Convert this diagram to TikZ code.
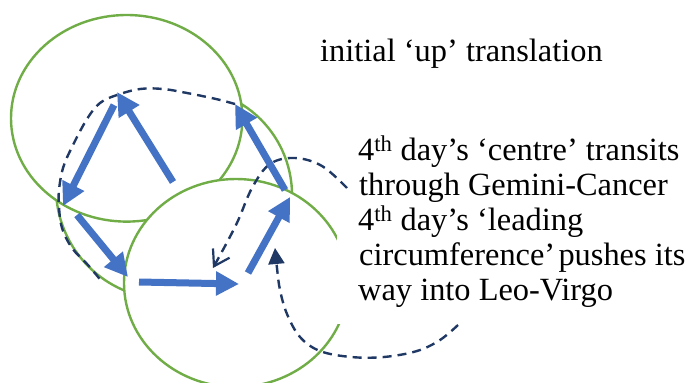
\documentclass[tikz,border=0pt]{standalone}
\usepackage{fontspec}
\setmainfont{Liberation Serif}
\usetikzlibrary{arrows.meta}
\definecolor{cgreen}{HTML}{70AD47}
\definecolor{cblue}{HTML}{4472C4}
\definecolor{cnavy}{HTML}{1F3864}
\begin{document}
\begin{tikzpicture}[x=1pt,y=-1pt,
  circ/.style={draw=cgreen,line width=2.4pt},
  bluearrow/.style={draw=cblue,line width=7pt,-{Triangle[length=23pt,width=23pt,fill=cblue]}},
  dashline/.style={draw=cnavy,line width=2.4pt,dash pattern=on 9pt off 6pt},
  lbl/.style={anchor=base west,inner sep=0pt,font=\fontsize{32.4}{35}\selectfont}]
\useasboundingbox (0,0) rectangle (689,383);
\clip (0,0) rectangle (689,383);
% circles (back ones first, then the white-filled front ones)
\draw[circ] (185,195) ++(-70:107) arc[start angle=-70,end angle=10,radius=107];
\draw[circ] (167,188) ++(100:111) arc[start angle=100,end angle=185,radius=111];
\draw[circ,fill=white] (126.7,118.3) ellipse [x radius=115.7,y radius=103.3];
\draw[circ,fill=white] (236,283) ellipse [x radius=112,y radius=104];
% white text box covering part of the front circle
\fill[white] (337,192) rectangle (689,324);
% arrow end points
\coordinate (p1s) at (173,182); \coordinate (p1e) at (117,92);
\coordinate (p2s) at (114,105); \coordinate (p2e) at (63,206);
\coordinate (p3s) at (77,215);  \coordinate (p3e) at (128,277);
\coordinate (p4s) at (139,282); \coordinate (p4e) at (239,284);
\coordinate (p5s) at (248,273); \coordinate (p5e) at (290,197);
\coordinate (p6s) at (285,190); \coordinate (p6e) at (235,104);
% dashed curves
\draw[dashline] plot[smooth,tension=0.6] coordinates {(p6e) (216,99) (187,93) (163,89) (140,89) (117,95) (100,103) (87,119) (72,147) (63,168) (59,190) (59,207) (62,228) (72,248) (88,265) (103,283)};
\coordinate (d2s) at (347,188); \coordinate (d2e) at (213,268);
\draw[dashline,-{Straight Barb[length=15pt,width=19pt,line width=2.2pt]}] plot[smooth,tension=0.6] coordinates {(d2s) (322,166) (295,158) (270,164) (252,188) (236,225) (d2e)};
\coordinate (d3s) at (458,325); \coordinate (d3e) at (275,248);
\draw[dashline,-{Triangle[length=16pt,width=16pt]}] plot[smooth,tension=0.6] coordinates {(d3s) (440,340) (417,351) (384,357) (351,357) (320,351) (300,337) (287,314) (280,290) (277,268) (d3e)};
% blue arrows
\draw[bluearrow] (p1s) -- (p1e);
\draw[bluearrow] (p2s) -- (p2e);
\draw[bluearrow] (p3s) -- (p3e);
\draw[bluearrow] (p4s) -- (p4e);
\draw[bluearrow] (p5s) -- (p5e);
\draw[bluearrow] (p6s) -- (p6e);
% texts
\node[lbl] (top) at (320,61.7) {initial ‘up’ translation};
\node[lbl] (l1) at (358,160.5) {4\textsuperscript{th} day’s ‘centre’ transits};
\node[lbl] (l2) at (359,195.5) {through Gemini-Cancer};
\node[lbl] (l3) at (358,230.5) {4\textsuperscript{th} day’s ‘leading};
\node[lbl] (l4) at (359,265.5) {circumference’\hspace{0.1em}pushes its};
\node[lbl] (l5) at (358,300.5) {way into Leo-Virgo};
\end{tikzpicture}
\end{document}
